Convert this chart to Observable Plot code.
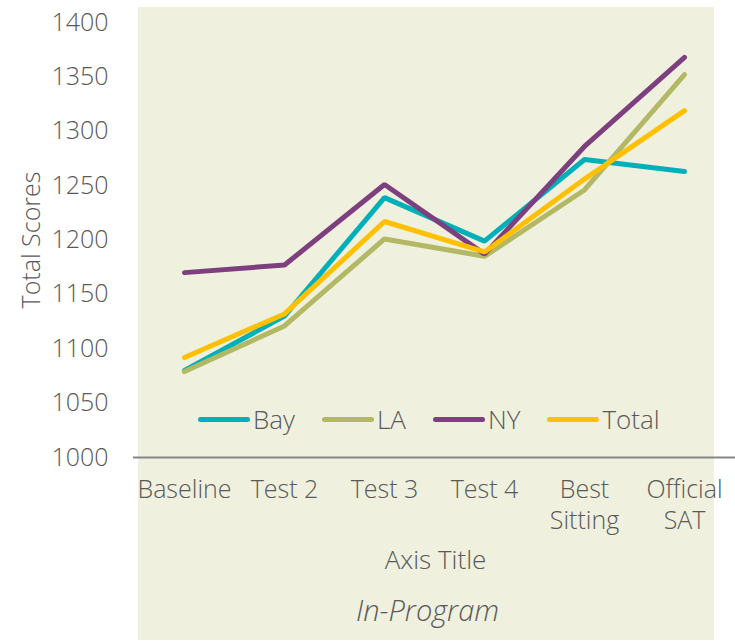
<!DOCTYPE html>
<html>
<head>
<meta charset="utf-8">
<script src="https://cdn.jsdelivr.net/npm/d3@7"></script>
<script src="https://cdn.jsdelivr.net/npm/@observablehq/plot@0.6"></script>
<style>
  html, body { margin: 0; padding: 0; background: #ffffff; }
  #wrap { position: relative; width: 735px; height: 644px; overflow: hidden; font-family: "Open Sans", Lato, sans-serif; }
  #bg { position: absolute; left: 138px; top: 7px; width: 576px; height: 633px; background: #EFF0DE; }
  #chart { position: absolute; left: 0; top: 0; }
  #legend { position: absolute; left: 198px; top: 401px; display: flex; align-items: center; font-size: 26px; color: #595959; font-weight: 300; }
  .item { display: flex; align-items: center; margin-right: 27px; }
  .swatch { display: inline-block; width: 52px; height: 5px; border-radius: 3px; margin-right: 3px; }
  svg text { font-weight: 300; }
</style>
</head>
<body>
<div id="wrap">
  <div id="bg"></div>
  <div id="chart"></div>
  <div id="legend"></div>
</div>
<script>
const categories = ["Baseline", "Test 2", "Test 3", "Test 4", "Best Sitting", "Official SAT"];
const tickLabels = ["Baseline", "Test 2", "Test 3", "Test 4", "Best\nSitting", "Official\nSAT"];
const seriesNames = ["Bay", "LA", "NY", "Total"];
const seriesColors = ["#00B0B9", "#B3B864", "#7E3F7E", "#FFC000"];
const bay = [1080, 1130, 1239, 1199, 1274, 1263];
const la = [1079, 1121, 1201, 1185, 1246, 1352];
const ny = [1170, 1177, 1251, 1187, 1286, 1368];
const total = [1092, 1132, 1217, 1189, 1256, 1319];
const yTicks = [1000, 1050, 1100, 1150, 1200, 1250, 1300, 1350, 1400];
const yTitle = "Total Scores";
const xTitle = "Axis Title";
const caption = "In-Program";

const seriesValues = [bay, la, ny, total];
const rows = [];
seriesNames.forEach((s, i) => {
  categories.forEach((c, j) => rows.push({series: s, category: c, value: seriesValues[i][j]}));
});

const textColor = "#595959";
const font = "'Open Sans', Lato, sans-serif";

const chart = Plot.plot({
  width: 735,
  height: 644,
  marginLeft: 133,
  marginRight: 0,
  marginTop: 22,
  marginBottom: 187,
  style: {background: "transparent", fontFamily: font, fontSize: "22px", color: textColor},
  x: {type: "point", domain: categories, padding: 0.5},
  y: {domain: [1000, 1400]},
  color: {domain: seriesNames, range: seriesColors},
  marks: [
    Plot.axisY({ticks: yTicks, tickFormat: (d) => String(d), tickSize: 0, tickPadding: 25, label: null, fill: textColor, fontSize: 25}),
    Plot.axisX({tickSize: 0, tickPadding: 18, label: null, fill: textColor, fontSize: 25, lineHeight: 1.25,
      tickFormat: (d) => tickLabels[categories.indexOf(d)]}),
    Plot.ruleY([1000], {stroke: "#868686", strokeWidth: 2}),
    Plot.line(rows, {x: "category", y: "value", z: "series", stroke: "series", strokeWidth: 5,
      strokeLinecap: "round", strokeLinejoin: "miter"}),
    Plot.text([yTitle], {frameAnchor: "left", textAnchor: "middle", dx: -102, rotate: -90, fill: textColor, fontSize: 25}),
    Plot.text([xTitle], {frameAnchor: "bottom", dy: 111, dx: 1, fill: textColor, fontSize: 26}),
    Plot.text([caption], {frameAnchor: "bottom", dy: 163, dx: -7, fill: textColor, fontSize: 29, fontStyle: "italic"})
  ]
});
document.getElementById("chart").appendChild(chart);

const legend = document.getElementById("legend");
seriesNames.forEach((s, i) => {
  const item = document.createElement("div");
  item.className = "item";
  const sw = document.createElement("span");
  sw.className = "swatch";
  sw.style.background = seriesColors[i];
  const t = document.createElement("span");
  t.textContent = s;
  item.appendChild(sw);
  item.appendChild(t);
  legend.appendChild(item);
});
</script>
</body>
</html>
